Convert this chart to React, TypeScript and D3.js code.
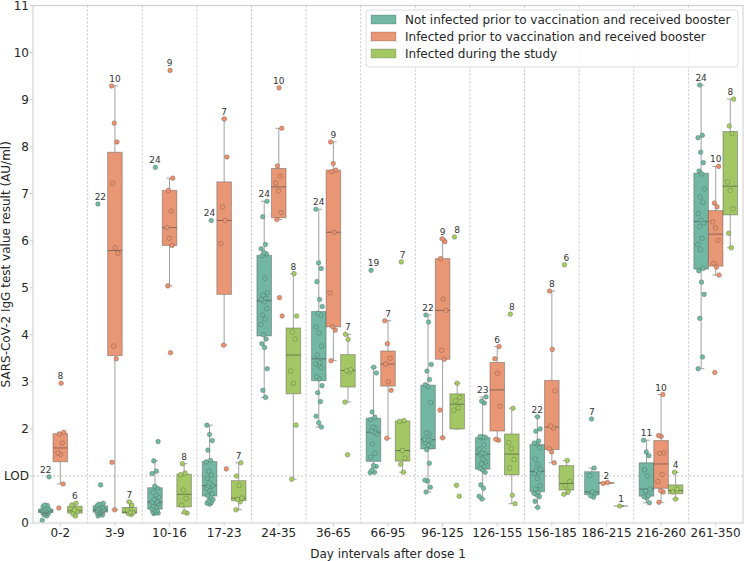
import React from "react";
import * as d3 from "d3";

const categories = ["0-2", "3-9", "10-16", "17-23", "24-35", "36-65", "66-95", "96-125", "126-155", "156-185", "186-215", "216-260", "261-350"];
const seriesNames = [
  "Not infected prior to vaccination and received booster",
  "Infected prior to vaccination and received booster",
  "Infected during the study",
];
const yTickValues = [0, 1, 2, 3, 4, 5, 6, 7, 8, 9, 10, 11];
const yTickLabels = ["0", "LOD", "2", "3", "4", "5", "6", "7", "8", "9", "10", "11"];

const notInfected: number[][] = [
  [0.06, 0.15, 0.18, 0.2, 0.21, 0.22, 0.23, 0.24, 0.24, 0.25, 0.25, 0.26, 0.26, 0.27, 0.27, 0.28, 0.3, 0.32, 0.35, 0.37, 0.38, 0.98],
  [0.15, 0.17, 0.2, 0.22, 0.22, 0.23, 0.24, 0.25, 0.26, 0.27, 0.28, 0.28, 0.3, 0.31, 0.33, 0.35, 0.37, 0.38, 0.4, 0.42, 0.81, 6.78],
  [0.2, 0.21, 0.22, 0.24, 0.26, 0.28, 0.3, 0.33, 0.36, 0.4, 0.43, 0.44, 0.45, 0.5, 0.55, 0.6, 0.65, 0.74, 0.78, 1.05, 1.1, 1.32, 1.73, 7.56],
  [0.4, 0.42, 0.44, 0.47, 0.5, 0.55, 0.58, 0.62, 0.7, 0.74, 0.78, 0.79, 0.8, 0.85, 0.95, 1.02, 1.1, 1.3, 1.33, 1.55, 1.75, 1.88, 2.08, 6.43],
  [2.67, 2.82, 3.28, 3.73, 3.81, 3.91, 4.0, 4.22, 4.33, 4.42, 4.56, 4.7, 4.75, 4.78, 4.84, 4.9, 5.2, 5.68, 5.72, 5.75, 5.83, 5.92, 6.51, 6.84],
  [2.04, 2.13, 2.27, 2.58, 2.77, 2.92, 3.06, 3.11, 3.3, 3.36, 3.38, 3.41, 3.57, 3.76, 4.04, 4.17, 4.42, 4.46, 4.6, 4.75, 5.13, 5.41, 5.53, 6.67],
  [1.07, 1.08, 1.12, 1.2, 1.22, 1.4, 1.48, 1.68, 1.89, 1.93, 1.96, 2.01, 2.04, 2.2, 2.25, 2.36, 3.19, 3.31, 5.37],
  [0.66, 0.76, 0.89, 0.91, 1.27, 1.56, 1.62, 1.66, 1.71, 1.76, 1.76, 1.78, 1.89, 1.92, 2.56, 2.9, 2.94, 3.05, 3.23, 3.37, 4.27, 4.42],
  [0.51, 0.57, 0.74, 0.81, 1.08, 1.13, 1.16, 1.2, 1.26, 1.3, 1.35, 1.46, 1.47, 1.49, 1.56, 1.66, 1.81, 1.82, 1.83, 1.84, 2.55, 2.59, 2.68],
  [0.33, 0.46, 0.56, 0.6, 0.63, 0.65, 0.72, 0.79, 0.95, 1.05, 1.08, 1.12, 1.14, 1.25, 1.36, 1.6, 1.69, 1.7, 1.74, 1.95, 2.0, 2.26],
  [0.55, 0.58, 0.62, 0.66, 1.01, 1.17, 2.21],
  [0.43, 0.53, 0.56, 0.58, 0.68, 0.72, 1.0, 1.13, 1.43, 1.51, 1.76],
  [3.28, 3.53, 4.35, 4.86, 5.12, 5.36, 5.41, 5.81, 5.92, 6.05, 6.3, 6.38, 6.44, 6.58, 6.82, 6.93, 7.1, 7.42, 7.48, 7.66, 7.88, 8.19, 8.24, 9.31],
];

const infectedPrior: number[][] = [
  [0.32, 0.83, 1.46, 1.49, 1.7, 1.89, 1.93, 2.97],
  [0.28, 1.29, 3.49, 3.76, 5.73, 5.85, 7.22, 8.1, 8.5, 9.29],
  [3.62, 5.04, 5.9, 6.05, 6.28, 6.63, 7.07, 7.33, 9.62],
  [1.15, 3.78, 5.94, 6.43, 6.72, 7.78, 8.59],
  [4.4, 4.79, 6.45, 6.6, 7.06, 7.23, 7.37, 7.59, 8.39, 9.25],
  [3.45, 4.1, 4.17, 4.89, 6.18, 7.47, 7.5, 7.64, 8.1],
  [1.8, 2.82, 3.0, 3.38, 3.5, 3.81, 4.3],
  [1.81, 2.4, 3.48, 3.67, 4.52, 4.76, 5.62, 5.98, 6.04],
  [1.76, 1.78, 2.48, 3.18, 3.49, 3.75],
  [1.28, 1.51, 1.58, 2.02, 2.06, 2.81, 3.69, 4.93],
  [0.84, 0.86],
  [0.44, 0.66, 0.69, 0.88, 1.03, 1.48, 1.49, 1.84, 1.86, 2.73],
  [3.2, 5.27, 5.44, 5.52, 6.01, 6.27, 6.4, 6.72, 6.8, 7.58],
];

const infectedDuring: number[][] = [
  [0.15, 0.2, 0.24, 0.28, 0.38, 0.42],
  [0.18, 0.2, 0.22, 0.23, 0.28, 0.38, 0.45],
  [0.21, 0.23, 0.38, 0.52, 0.7, 1.03, 1.06, 1.26],
  [0.28, 0.45, 0.5, 0.53, 0.8, 1.0, 1.28],
  [0.93, 2.08, 2.97, 3.23, 3.91, 4.06, 4.4, 5.3],
  [1.45, 2.57, 3.21, 3.24, 3.26, 3.9, 4.01],
  [1.08, 1.25, 1.38, 1.54, 2.16, 2.18, 5.55],
  [0.57, 0.8, 2.4, 2.45, 2.6, 2.67, 2.97, 6.08],
  [0.41, 0.59, 1.17, 1.35, 1.58, 1.71, 2.44, 4.44],
  [0.61, 0.67, 0.79, 0.89, 1.33, 5.49],
  [0.36],
  [0.51, 0.66, 0.72, 1.08],
  [5.85, 6.16, 6.68, 7.07, 7.25, 8.28, 8.44, 9.01],
];

const boxFill = ["#71b7a1", "#e99675", "#a2c764"];
const pointFill = ["#6cbca2", "#ef9069", "#a5cf5c"];

const W = 744;
const H = 561;
const PL = 33;
const PR = 743;
const PT = 5.5;
const PB = 523;
const FONT = "DejaVu Sans, sans-serif";

function stats(vals: number[]) {
  const s = [...vals].sort(d3.ascending);
  const q1 = d3.quantileSorted(s, 0.25) as number;
  const med = d3.quantileSorted(s, 0.5) as number;
  const q3 = d3.quantileSorted(s, 0.75) as number;
  const iqr = q3 - q1;
  const hiF = q3 + 1.5 * iqr;
  const loF = q1 - 1.5 * iqr;
  let whHi = d3.max(s.filter((v) => v <= hiF)) as number;
  if (whHi === undefined || whHi < q3) whHi = q3;
  let whLo = d3.min(s.filter((v) => v >= loF)) as number;
  if (whLo === undefined || whLo > q1) whLo = q1;
  return { q1, med, q3, whLo, whHi, max: s[s.length - 1] };
}

export default function App() {
  const x = d3.scaleBand<string>().domain(categories).range([PL, PR]).padding(0);
  const y = d3.scaleLinear().domain([0, 11]).range([PB, PT]);
  const bw = x.bandwidth();
  const hw = (bw * 0.8) / 3;
  const groups = [notInfected, infectedPrior, infectedDuring];
  const capW = 6.5;

  const boxes: React.ReactNode[] = [];
  const points: React.ReactNode[] = [];
  const labels: React.ReactNode[] = [];

  categories.forEach((cat, ci) => {
    const c = (x(cat) as number) + bw / 2;
    groups.forEach((g, gi) => {
      const vals = g[ci];
      if (!vals || vals.length === 0) return;
      const cx = c + (gi - 1) * hw;
      const st = stats(vals);
      const key = `${ci}-${gi}`;
      boxes.push(
        <g key={key}>
          <line x1={cx} x2={cx} y1={y(st.q3)} y2={y(st.whHi)} stroke="#a0a0a0" strokeWidth={1} />
          <line x1={cx} x2={cx} y1={y(st.q1)} y2={y(st.whLo)} stroke="#a0a0a0" strokeWidth={1} />
          <line x1={cx - capW / 2} x2={cx + capW / 2} y1={y(st.whHi)} y2={y(st.whHi)} stroke="#a0a0a0" strokeWidth={1} />
          <line x1={cx - capW / 2} x2={cx + capW / 2} y1={y(st.whLo)} y2={y(st.whLo)} stroke="#a0a0a0" strokeWidth={1} />
          <rect
            x={cx - hw / 2}
            y={y(st.q3)}
            width={hw}
            height={Math.max(0, y(st.q1) - y(st.q3))}
            fill={boxFill[gi]}
            stroke="rgba(70,70,70,0.4)"
            strokeWidth={1}
          />
          <line x1={cx - hw / 2} x2={cx + hw / 2} y1={y(st.med)} y2={y(st.med)} stroke="rgba(60,60,60,0.55)" strokeWidth={1} />
        </g>
      );
      vals.forEach((v, i) => {
        const j = (((i * 0.618034 + gi * 0.29 + ci * 0.173) % 1) - 0.5) * 7;
        points.push(
          <circle
            key={`${key}-${i}`}
            cx={cx + j}
            cy={y(v)}
            r={2.3}
            fill={pointFill[gi]}
            stroke="rgba(90,90,90,0.65)"
            strokeWidth={0.6}
          />
        );
      });
      labels.push(
        <text key={`l-${key}`} x={cx} y={y(st.max) - 4} textAnchor="middle" fontSize={9} fill="#333" fontFamily={FONT}>
          {vals.length}
        </text>
      );
    });
  });

  const separators = categories.slice(1).map((cat) => x(cat) as number);

  return (
    <svg width={W} height={H} style={{ position: "absolute", left: 0, top: 0, display: "block", background: "#fff" }}>
      <rect x={0} y={0} width={W} height={H} fill="#fff" />
      {separators.map((sx, i) => (
        <line key={`sep-${i}`} x1={sx} x2={sx} y1={PT} y2={PB} stroke="#b5b5b5" strokeWidth={0.8} strokeDasharray="2,2" />
      ))}
      <line x1={PL} x2={PR} y1={y(1)} y2={y(1)} stroke="#b5b5b5" strokeWidth={0.8} strokeDasharray="2,2" />
      {boxes}
      {points}
      {labels}
      <rect x={PL} y={PT} width={PR - PL} height={PB - PT} fill="none" stroke="#cccccc" strokeWidth={1} />
      {yTickValues.map((v, i) => (
        <g key={`yt-${i}`}>
          <line x1={PL - 3} x2={PL} y1={y(v)} y2={y(v)} stroke="#cccccc" />
          <text x={PL - 4} y={y(v)} dy="0.36em" textAnchor="end" fontSize={12} fill="#262626" fontFamily={FONT}>
            {yTickLabels[i]}
          </text>
        </g>
      ))}
      {categories.map((cat) => {
        const cx = (x(cat) as number) + bw / 2;
        return (
          <g key={`xt-${cat}`}>
            <line x1={cx} x2={cx} y1={PB} y2={PB + 3} stroke="#cccccc" />
            <text x={cx} y={537} textAnchor="middle" fontSize={12} fill="#262626" fontFamily={FONT}>
              {cat}
            </text>
          </g>
        );
      })}
      <text x={388} y={558} textAnchor="middle" fontSize={12} fill="#262626" fontFamily={FONT}>
        Day intervals after dose 1
      </text>
      <text
        transform={`translate(10,${(PT + PB) / 2}) rotate(-90)`}
        textAnchor="middle"
        fontSize={12}
        fill="#262626"
        fontFamily={FONT}
      >
        SARS-CoV-2 IgG test value result (AU/ml)
      </text>
      <g>
        <rect x={366} y={10} width={372} height={57} rx={3} fill="rgba(255,255,255,0.85)" stroke="#dddddd" strokeWidth={1} />
        {seriesNames.map((name, i) => (
          <g key={`lg-${i}`}>
            <rect x={371} y={15 + i * 17} width={25} height={9} fill={boxFill[i]} stroke="rgba(70,70,70,0.3)" strokeWidth={0.8} />
            <text x={405} y={20 + i * 17} dy="0.36em" fontSize={12} fill="#262626" fontFamily={FONT}>
              {name}
            </text>
          </g>
        ))}
      </g>
    </svg>
  );
}
